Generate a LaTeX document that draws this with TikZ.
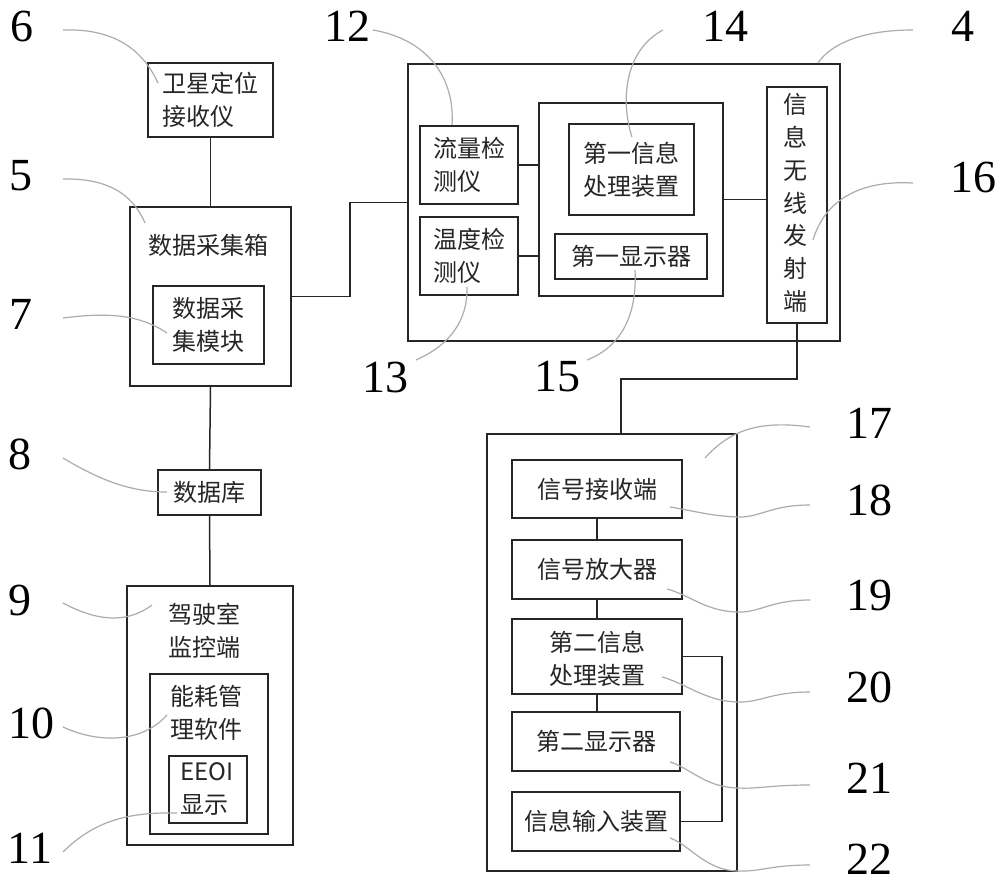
\documentclass[tikz,border=0pt]{standalone}
\usepackage{fontspec}
\setmainfont{Liberation Serif}
\newfontfamily\cjk{Noto Sans CJK SC}
\begin{document}
\begin{tikzpicture}[x=1pt,y=-1pt,
  box/.style={draw=black!85, line width=1.5pt, inner sep=0pt, rectangle},
  cn/.style={font=\cjk\fontsize{24}{33}\selectfont, text=black!85, inner sep=0pt},
  lbl/.style={font=\fontsize{46}{46}\selectfont, text=black, inner sep=0pt},
  wire/.style={draw=black!85, line width=1.5pt},
  ldr/.style={draw=gray!65, line width=1.2pt}]
\useasboundingbox (0,0) rectangle (1000,883);
\fill[white] (0,0) rectangle (1000,883);

% ---------- left column ----------
\node[box, minimum width=125, minimum height=74] (sat) at (210.5,100) {};
\node[cn, align=left] (satT) at (sat.center) {卫星定位\\接收仪};

\node[box, minimum width=161, minimum height=179] (dbox) at (210.5,296.5) {};
\node[cn] (dboxT) at (208,245) {数据采集箱};
\node[box, minimum width=111, minimum height=78] (dmod) at (208.5,325) {};
\node[cn, align=left] (dmodT) at (dmod.center) {数据采\\集模块};

\node[box, minimum width=103, minimum height=45] (db) at (209.5,492.5) {};
\node[cn] (dbT) at (db.center) {数据库};

\node[box, minimum width=166, minimum height=259] (cab) at (210,715.5) {};
\node[cn, align=left] (cabT) at (204,631) {驾驶室\\监控端};
\node[box, minimum width=118, minimum height=160] (sw) at (209,754) {};
\node[cn, align=left] (swT) at (206,713) {能耗管\\理软件};
\node[box, minimum width=78, minimum height=67] (ee) at (208,789.5) {};
\node[cn, align=left] (eeT) at (207,789) {EEOI\\显示};

% ---------- unit 4 ----------
\node[box, minimum width=432, minimum height=277] (u4) at (624,202.5) {};
\node[box, minimum width=98, minimum height=78] (flow) at (469,165) {};
\node[cn, align=left] (flowT) at (flow.center) {流量检\\测仪};
\node[box, minimum width=98, minimum height=78] (temp) at (469,256) {};
\node[cn, align=left] (tempT) at (temp.center) {温度检\\测仪};
\node[box, minimum width=184, minimum height=193] (mid) at (631,199.5) {};
\node[box, minimum width=125, minimum height=91] (proc1) at (631.5,169.5) {};
\node[cn, align=left] (proc1T) at (proc1.center) {第一信息\\处理装置};
\node[box, minimum width=152, minimum height=45] (disp1) at (631,256.5) {};
\node[cn] (disp1T) at (disp1.center) {第一显示器};
\node[box, minimum width=60, minimum height=236] (tx) at (797,205) {};
\node[cn, align=center, font=\cjk\fontsize{24}{32.8}\selectfont] (txT) at (795,203) {信\\息\\无\\线\\发\\射\\端};

% ---------- unit 17 ----------
\node[box, minimum width=250, minimum height=437] (u17) at (612,652.5) {};
\node[box, minimum width=170, minimum height=58] (rx) at (597,489) {};
\node[cn] (rxT) at (rx.center) {信号接收端};
\node[box, minimum width=170, minimum height=59] (amp) at (597,569.5) {};
\node[cn] (ampT) at (amp.center) {信号放大器};
\node[box, minimum width=170, minimum height=75] (proc2) at (597,656.5) {};
\node[cn, align=left] (proc2T) at (597,659) {第二信息\\处理装置};
\node[box, minimum width=168, minimum height=59] (disp2) at (596,741.5) {};
\node[cn] (disp2T) at (disp2.center) {第二显示器};
\node[box, minimum width=168, minimum height=59] (inp) at (596,821.5) {};
\node[cn] (inpT) at (inp.center) {信息输入装置};

% ---------- connectors ----------
\draw[wire] (sat.south) -- (dbox.north);
\draw[wire] (dbox.east) -- ++(58,0) |- (u4.west);
\draw[wire] (dbox.south) -- (db.north);
\draw[wire] (db.south) -- (cab.north);
\draw[wire] (flow.east) -- (mid.west |- flow.east);
\draw[wire] (temp.east) -- (mid.west |- temp.east);
\draw[wire] (mid.east) -- (tx.west |- mid.east);
\coordinate (u17in) at (621,434);
\draw[wire] (tx.south) -- ++(0,55) -| (u17in);
\draw[wire] (rx.south) -- (amp.north);
\draw[wire] (amp.south) -- (proc2.north);
\draw[wire] (proc2.south) -- (disp2.north -| proc2.south);
\draw[wire] (proc2.east) -- ++(39,0) |- (inp.east);

% ---------- reference numbers ----------
\node[lbl] (n6) at (22,26) {6};
\node[lbl] (n5) at (21,176) {5};
\node[lbl] (n7) at (21,314) {7};
\node[lbl] (n12) at (347,26) {12};
\node[lbl] (n14) at (725,26) {14};
\node[lbl] (n4) at (963,26) {4};
\node[lbl] (n16) at (973,177) {16};
\node[lbl] (n13) at (385,377) {13};
\node[lbl] (n15) at (557,377) {15};
\node[lbl] (n8) at (20,454) {8};
\node[lbl] (n9) at (20,600) {9};
\node[lbl] (n10) at (32,723) {10};
\node[lbl] (n11) at (30,848) {11};
\node[lbl] (n17) at (869,423) {17};
\node[lbl] (n18) at (869,500) {18};
\node[lbl] (n19) at (869,595) {19};
\node[lbl] (n20) at (869,687) {20};
\node[lbl] (n21) at (869,778) {21};
\node[lbl] (n22) at (869,859) {22};

% ---------- leader lines ----------
\draw[ldr] (63,30) .. controls (120,28) and (145,55) .. (158,83);
\draw[ldr] (63,179) .. controls (115,178) and (135,200) .. (145,223);
\draw[ldr] (63,318) .. controls (110,312) and (140,315) .. (167,333);
\draw[ldr] (373,30) .. controls (430,40) and (455,80) .. (452,125);
\draw[ldr] (663,30) .. controls (625,50) and (620,100) .. (632,137);
\draw[ldr] (913,30) .. controls (860,30) and (830,45) .. (818,63);
\draw[ldr] (913,183) .. controls (860,180) and (825,200) .. (813,240);
\draw[ldr] (416,360) .. controls (450,345) and (468,320) .. (467,287);
\draw[ldr] (587,360) .. controls (625,345) and (637,310) .. (635,270);
\draw[ldr] (63,458) .. controls (100,480) and (130,492) .. (167,492);
\draw[ldr] (63,603) .. controls (95,620) and (125,625) .. (152,605);
\draw[ldr] (63,727) .. controls (95,742) and (140,745) .. (167,715);
\draw[ldr] (63,852) .. controls (95,820) and (130,812) .. (177,813);
\draw[ldr] (810,427) .. controls (760,420) and (730,430) .. (705,458);
\draw[ldr] (810,505) .. controls (770,505) and (760,518) .. (737,517) .. controls (710,516) and (690,510) .. (670,507);
\draw[ldr] (810,600) .. controls (770,600) and (760,613) .. (737,612) .. controls (705,611) and (690,595) .. (667,589);
\draw[ldr] (810,692) .. controls (770,692) and (760,703) .. (737,702) .. controls (705,701) and (685,683) .. (662,677);
\draw[ldr] (810,785) .. controls (770,785) and (760,789) .. (737,788) .. controls (705,787) and (690,768) .. (670,762);
\draw[ldr] (810,865) .. controls (770,865) and (760,872) .. (737,871) .. controls (705,870) and (690,845) .. (670,838);
\end{tikzpicture}
\end{document}
